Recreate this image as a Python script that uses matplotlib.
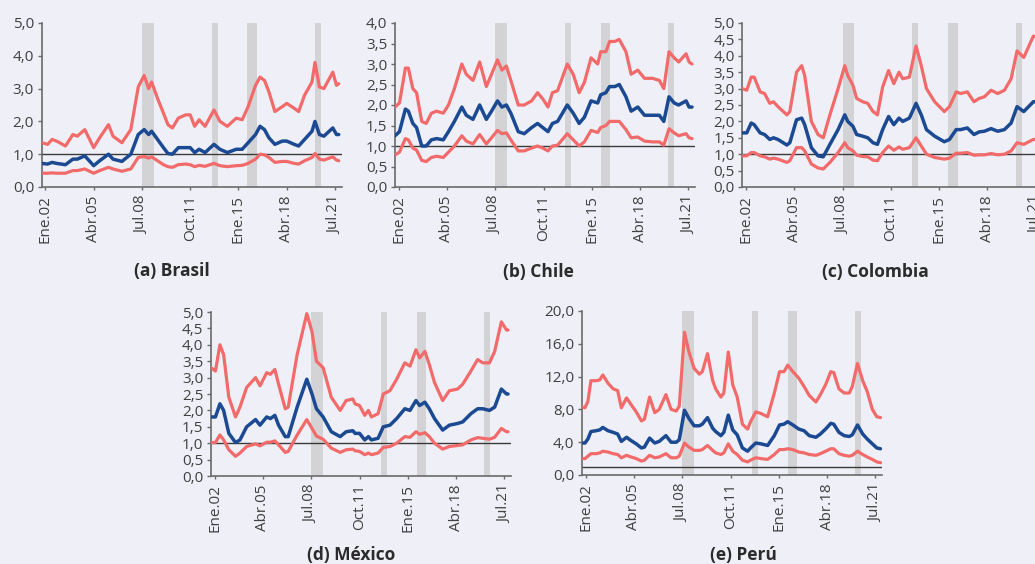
import numpy as np
import matplotlib.pyplot as plt
from matplotlib.ticker import FuncFormatter

plt.rcParams['font.family'] = ['Open Sans', 'DejaVu Sans']

BG = '#eff0f7'
RED = '#f26a6a'
BLUE = '#1b4a93'
BAND = '#d3d3d5'

# shaded episodes (decimal years)
bands = [(2008.5, 2009.3), (2013.2, 2013.6), (2015.6, 2016.25), (2020.15, 2020.55)]

tick_pos = [2002.0, 2005.25, 2008.5, 2011.75, 2015.0, 2018.25, 2021.5]
tick_labels = ['Ene.02', 'Abr.05', 'Jul.08', 'Oct.11', 'Ene.15', 'Abr.18', 'Jul.21']

# ---- Brasil ----
dates_br = [2001.75, 2002.15, 2002.45, 2002.75, 2003.35, 2003.85, 2004.15, 2004.65, 2005.25, 2005.65,
            2006.25, 2006.55, 2007.15, 2007.75, 2008.25, 2008.65, 2008.95, 2009.15, 2009.55, 2009.95,
            2010.25, 2010.55, 2010.95, 2011.45, 2011.75, 2012.05, 2012.35, 2012.75, 2013.35, 2013.75,
            2014.25, 2014.85, 2015.25, 2015.65, 2016.15, 2016.45, 2016.75, 2017.05, 2017.45, 2017.95,
            2018.25, 2018.75, 2019.05, 2019.45, 2019.95, 2020.15, 2020.45, 2020.75, 2021.35, 2021.6,
            2021.75]
upper_br = [1.35, 1.3, 1.45, 1.4, 1.25, 1.6, 1.55, 1.75, 1.2, 1.5,
            1.9, 1.55, 1.35, 1.75, 3.05, 3.4, 3.0, 3.2, 2.7, 2.25,
            1.9, 1.8, 2.1, 2.2, 2.2, 1.85, 2.05, 1.85, 2.35, 2.0,
            1.85, 2.1, 2.05, 2.45, 3.1, 3.35, 3.25, 2.9, 2.3, 2.45,
            2.55, 2.4, 2.3, 2.8, 3.2, 3.8, 3.05, 3.0, 3.5, 3.1,
            3.15]
mid_br = [0.72, 0.7, 0.75, 0.72, 0.68, 0.85, 0.85, 0.95, 0.65, 0.8,
          1.0, 0.85, 0.78, 1.0, 1.6, 1.75, 1.6, 1.7, 1.45, 1.2,
          1.02, 1.0, 1.2, 1.2, 1.2, 1.05, 1.15, 1.05, 1.3, 1.15,
          1.05, 1.15, 1.15, 1.35, 1.6, 1.85, 1.75, 1.5, 1.3, 1.4,
          1.4, 1.3, 1.25, 1.45, 1.7, 2.0, 1.6, 1.55, 1.8, 1.6,
          1.6]
lower_br = [0.42, 0.42, 0.43, 0.42, 0.42, 0.5, 0.5, 0.55, 0.42, 0.5,
            0.6, 0.55, 0.48, 0.55, 0.9, 0.93, 0.88, 0.92, 0.8, 0.68,
            0.62, 0.6, 0.68, 0.7, 0.68, 0.62, 0.66, 0.63, 0.72, 0.65,
            0.62, 0.65, 0.66, 0.72, 0.85, 1.0, 0.98, 0.9, 0.75, 0.78,
            0.78, 0.72, 0.7, 0.8, 0.9, 1.02, 0.85, 0.82, 0.92, 0.82,
            0.8]

# ---- Chile ----
dates_cl = [2001.75, 2002.05, 2002.45, 2002.65, 2002.95, 2003.2, 2003.55, 2003.85, 2004.2, 2004.55,
            2005.0, 2005.35, 2005.75, 2006.25, 2006.55, 2007.0, 2007.45, 2007.9, 2008.25, 2008.65,
            2008.95, 2009.25, 2009.55, 2010.05, 2010.45, 2010.95, 2011.35, 2011.7, 2012.05, 2012.35,
            2012.7, 2013.35, 2013.75, 2014.15, 2014.5, 2014.95, 2015.4, 2015.6, 2015.95, 2016.2,
            2016.55, 2016.85, 2017.3, 2017.65, 2018.1, 2018.55, 2019.1, 2019.55, 2019.85, 2020.2,
            2020.55, 2020.85, 2021.35, 2021.55, 2021.75]
upper_cl = [1.95, 2.05, 2.9, 2.9, 2.4, 2.3, 1.6, 1.55, 1.8, 1.85,
            1.8, 2.0, 2.4, 3.0, 2.75, 2.6, 3.05, 2.45, 2.75, 3.1,
            2.85, 2.95, 2.6, 2.0, 2.0, 2.1, 2.3, 2.15, 1.95, 2.3,
            2.35, 3.0, 2.75, 2.3, 2.55, 3.15, 3.0, 3.3, 3.3, 3.55,
            3.55, 3.6, 3.3, 2.75, 2.85, 2.65, 2.65, 2.6, 2.4, 3.3,
            3.15, 3.05, 3.25, 3.05, 3.0]
mid_cl = [1.25, 1.35, 1.9, 1.85, 1.55, 1.45, 1.0, 1.0, 1.15, 1.18,
          1.15, 1.35, 1.6, 1.95, 1.75, 1.65, 2.0, 1.65, 1.85, 2.1,
          1.95, 2.0, 1.8, 1.35, 1.3, 1.45, 1.55, 1.45, 1.35, 1.55,
          1.6, 2.0, 1.8, 1.55, 1.7, 2.1, 2.05, 2.25, 2.3, 2.45,
          2.45, 2.5, 2.2, 1.85, 1.95, 1.75, 1.75, 1.75, 1.6, 2.2,
          2.05, 2.0, 2.1, 1.95, 1.95]
lower_cl = [0.78, 0.85, 1.18, 1.15, 0.95, 0.9, 0.65, 0.62, 0.72, 0.75,
            0.72, 0.85, 1.0, 1.25, 1.12, 1.05, 1.28, 1.05, 1.2, 1.38,
            1.3, 1.32, 1.15, 0.88, 0.88, 0.95, 1.0, 0.95, 0.88, 1.0,
            1.02, 1.3, 1.15, 1.0, 1.1, 1.38, 1.33, 1.45, 1.5, 1.6,
            1.6, 1.6, 1.4, 1.2, 1.22, 1.12, 1.1, 1.1, 1.02, 1.42,
            1.32, 1.25, 1.3, 1.2, 1.18]

# ---- Colombia ----
dates_co = [2001.75, 2002.05, 2002.35, 2002.55, 2002.95, 2003.25, 2003.6, 2003.85, 2004.15, 2004.75,
            2004.95, 2005.4, 2005.75, 2005.95, 2006.4, 2006.85, 2007.2, 2007.65, 2008.2, 2008.65,
            2008.85, 2009.2, 2009.45, 2009.85, 2010.2, 2010.55, 2010.85, 2011.2, 2011.6, 2011.95,
            2012.3, 2012.55, 2013.0, 2013.45, 2013.8, 2014.15, 2014.7, 2015.35, 2015.7, 2016.15,
            2016.45, 2016.9, 2017.35, 2017.7, 2018.05, 2018.5, 2018.95, 2019.4, 2019.85, 2020.25,
            2020.7, 2021.35, 2021.75]
upper_co = [3.0, 2.95, 3.35, 3.35, 2.9, 2.85, 2.55, 2.6, 2.45, 2.2,
            2.3, 3.5, 3.7, 3.4, 2.0, 1.6, 1.5, 2.2, 3.0, 3.7,
            3.4, 3.1, 2.7, 2.6, 2.55, 2.3, 2.2, 3.05, 3.55, 3.15,
            3.5, 3.3, 3.35, 4.3, 3.7, 3.0, 2.6, 2.3, 2.45, 2.9,
            2.85, 2.9, 2.6, 2.7, 2.75, 2.95, 2.85, 2.95, 3.3, 4.15,
            3.95, 4.6, 4.55]
mid_co = [1.65, 1.65, 1.95, 1.9, 1.65, 1.6, 1.45, 1.5, 1.45, 1.28,
          1.35, 2.05, 2.1, 1.9, 1.2, 0.95, 0.92, 1.3, 1.75, 2.2,
          2.0, 1.85, 1.6, 1.55, 1.5, 1.35, 1.3, 1.75, 2.15, 1.9,
          2.1, 2.0, 2.1, 2.55, 2.2, 1.75, 1.55, 1.38, 1.45, 1.75,
          1.75, 1.8, 1.6, 1.68, 1.7, 1.78, 1.7, 1.75, 1.95, 2.45,
          2.3, 2.6, 2.6]
lower_co = [0.95, 0.95, 1.05, 1.05, 0.95, 0.92, 0.85, 0.88, 0.85, 0.75,
            0.8, 1.2, 1.2, 1.1, 0.7, 0.58, 0.55, 0.75, 1.05, 1.35,
            1.2, 1.1, 0.97, 0.93, 0.92, 0.82, 0.8, 1.05, 1.25, 1.12,
            1.22, 1.15, 1.2, 1.5, 1.25, 1.0, 0.9, 0.85, 0.88, 1.03,
            1.03, 1.05, 0.97, 0.98, 0.98, 1.02, 0.98, 1.0, 1.1, 1.35,
            1.3, 1.45, 1.45]

# ---- México ----
dates_mx = [2001.75, 2002.05, 2002.35, 2002.6, 2002.95, 2003.4, 2003.7, 2004.15, 2004.75, 2005.05,
            2005.5, 2005.75, 2006.05, 2006.3, 2006.75, 2006.95, 2007.55, 2008.2, 2008.55, 2008.85,
            2009.3, 2009.85, 2010.45, 2010.85, 2011.3, 2011.45, 2011.75, 2012.1, 2012.35, 2012.55,
            2013.0, 2013.35, 2013.8, 2014.25, 2014.8, 2015.15, 2015.55, 2015.8, 2016.15, 2016.45,
            2016.8, 2017.35, 2017.8, 2018.35, 2018.7, 2019.25, 2019.7, 2020.05, 2020.5, 2020.85,
            2021.3, 2021.65, 2021.75]
upper_mx = [3.3, 3.2, 4.0, 3.7, 2.4, 1.8, 2.1, 2.7, 3.0, 2.75,
            3.15, 3.1, 3.25, 2.8, 2.05, 2.1, 3.7, 4.95, 4.4, 3.5,
            3.3, 2.4, 2.0, 2.3, 2.35, 2.2, 2.15, 1.85, 2.0, 1.8,
            1.9, 2.5, 2.6, 2.95, 3.45, 3.35, 3.85, 3.6, 3.8, 3.4,
            2.85, 2.3, 2.6, 2.65, 2.8, 3.2, 3.55, 3.45, 3.45, 3.8,
            4.7, 4.45, 4.45]
mid_mx = [1.8, 1.8, 2.2, 2.0, 1.3, 1.02, 1.1, 1.5, 1.72, 1.55,
          1.8, 1.75, 1.85, 1.55, 1.2, 1.2, 2.1, 2.95, 2.5, 2.05,
          1.8, 1.35, 1.2, 1.35, 1.38, 1.3, 1.3, 1.1, 1.2, 1.1,
          1.15, 1.5, 1.55, 1.75, 2.05, 2.0, 2.3, 2.15, 2.25, 2.05,
          1.75, 1.4, 1.55, 1.6, 1.65, 1.9, 2.05, 2.05, 2.0, 2.1,
          2.65, 2.5, 2.5]
lower_mx = [1.02, 1.02, 1.25, 1.1, 0.8, 0.6, 0.7, 0.9, 0.98, 0.92,
            1.03, 1.03, 1.07, 0.95, 0.72, 0.75, 1.25, 1.72, 1.45, 1.22,
            1.12, 0.85, 0.72, 0.8, 0.82, 0.77, 0.75, 0.65, 0.7, 0.65,
            0.7, 0.87, 0.9, 1.0, 1.2, 1.18, 1.35, 1.27, 1.32, 1.2,
            1.0, 0.82, 0.9, 0.93, 0.95, 1.1, 1.17, 1.15, 1.12, 1.18,
            1.45, 1.35, 1.35]

# ---- Perú ----
dates_pe = [2001.75, 2001.95, 2002.15, 2002.35, 2002.7, 2002.95, 2003.15, 2003.5, 2003.85, 2004.15,
            2004.4, 2004.75, 2005.05, 2005.4, 2005.75, 2005.95, 2006.3, 2006.65, 2006.95, 2007.4,
            2007.75, 2008.1, 2008.3, 2008.65, 2008.95, 2009.3, 2009.65, 2009.85, 2010.2, 2010.55,
            2010.75, 2011.1, 2011.3, 2011.6, 2011.9, 2012.2, 2012.55, 2012.9, 2013.1, 2013.45,
            2013.8, 2014.25, 2014.7, 2015.05, 2015.35, 2015.6, 2015.95, 2016.35, 2016.7, 2017.05,
            2017.5, 2017.8, 2018.15, 2018.5, 2018.7, 2019.05, 2019.4, 2019.75, 2019.95, 2020.3,
            2020.65, 2020.95, 2021.3, 2021.6, 2021.85]
upper_pe = [8.3, 8.2, 9.0, 11.5, 11.5, 11.6, 12.2, 11.2, 10.5, 10.3,
            8.2, 9.4, 8.6, 7.7, 6.6, 6.8, 9.5, 7.6, 8.0, 9.8,
            8.0, 7.8, 8.4, 17.4, 15.0, 13.0, 12.3, 12.6, 14.8, 11.5,
            10.5, 9.5, 10.0, 15.0, 11.0, 9.5, 6.2, 5.6, 6.5, 7.7,
            7.5, 7.1, 10.0, 12.6, 12.6, 13.4, 12.6, 11.8, 10.8, 9.7,
            8.9, 9.8, 11.0, 12.6, 12.5, 10.5, 10.0, 10.0, 10.8, 13.6,
            11.5, 10.2, 8.0, 7.1, 7.0]
mid_pe = [3.9, 3.9, 4.4, 5.3, 5.4, 5.5, 5.8, 5.4, 5.2, 5.0,
          4.1, 4.6, 4.2, 3.8, 3.3, 3.4, 4.5, 3.9, 4.1, 4.8,
          4.0, 4.0, 4.3, 7.9, 6.9, 6.0, 6.0, 6.2, 7.0, 5.7,
          5.3, 4.8, 5.2, 7.3, 5.5, 4.9, 3.3, 2.9, 3.3, 3.9,
          3.8, 3.6, 4.8, 6.1, 6.2, 6.5, 6.1, 5.6, 5.4, 4.8,
          4.6, 5.0, 5.6, 6.3, 6.2, 5.2, 4.8, 4.7, 4.9, 6.1,
          5.0, 4.4, 3.8, 3.3, 3.2]
lower_pe = [2.0, 2.0, 2.3, 2.6, 2.6, 2.7, 2.9, 2.8, 2.6, 2.5,
            2.1, 2.4, 2.2, 2.0, 1.7, 1.8, 2.4, 2.1, 2.2, 2.6,
            2.1, 2.1, 2.3, 3.9, 3.4, 3.0, 3.0, 3.1, 3.6, 3.0,
            2.7, 2.5, 2.7, 3.8, 2.9, 2.5, 1.8, 1.6, 1.8, 2.1,
            2.0, 1.9, 2.5, 3.1, 3.1, 3.2, 3.1, 2.8, 2.7, 2.5,
            2.4, 2.6, 2.9, 3.2, 3.2, 2.6, 2.4, 2.3, 2.4, 2.9,
            2.5, 2.2, 1.9, 1.6, 1.5]

W, H = 1035.0, 564.0
fig = plt.figure(figsize=(W / 100, H / 100), dpi=100, facecolor=BG)


def comma(v, pos):
    return f'{v:.1f}'.replace('.', ',')


def panel(left, top, dates, upper, mid, lower, ymax, ystep, title, tx, ty):
    """Draw one country panel; left/top are in pixels from the top-left corner."""
    ax = fig.add_axes([left / W, (H - top - 164) / H, 300 / W, 164 / H])
    ax.set_facecolor(BG)
    for a, b in bands:
        ax.axvspan(a, b, color=BAND, lw=0, zorder=1)
    ax.axhline(1.0, color='#3a3a3a', lw=1.0, zorder=2)
    ax.plot(dates, upper, color=RED, lw=2.3, zorder=3, solid_capstyle='round')
    ax.plot(dates, lower, color=RED, lw=2.3, zorder=3, solid_capstyle='round')
    ax.plot(dates, mid, color=BLUE, lw=2.5, zorder=4, solid_capstyle='round')

    ax.set_xlim(2001.75, 2021.95)
    ax.set_ylim(0, ymax)
    ax.set_yticks(np.arange(0, ymax + ystep / 2, ystep))
    ax.yaxis.set_major_formatter(FuncFormatter(comma))
    ax.set_xticks(tick_pos)
    ax.set_xticklabels(tick_labels, rotation=90)

    for s in ('top', 'right'):
        ax.spines[s].set_visible(False)
    for s in ('left', 'bottom'):
        ax.spines[s].set_color('#6a6a6a')
        ax.spines[s].set_linewidth(1.2)
    ax.tick_params(axis='y', length=3, width=1, color='#6a6a6a', pad=2.5,
                   labelsize=11, labelcolor='#404040')
    ax.tick_params(axis='x', length=2.5, width=1, color='#6a6a6a', pad=3.5,
                   labelsize=11, labelcolor='#404040')

    fig.text(tx / W, 1 - ty / H, title, ha='center', va='center',
             fontsize=12.5, fontweight='bold', color='#2b2b2b')
    return ax


panel(41.7, 23, dates_br, upper_br, mid_br, lower_br, 5.0, 1.0, '(a) Brasil', 172, 271)
panel(395, 23, dates_cl, upper_cl, mid_cl, lower_cl, 4.0, 0.5, '(b) Chile', 538, 272)
panel(742.3, 23, dates_co, upper_co, mid_co, lower_co, 5.0, 0.5, '(c) Colombia', 875, 272)
panel(211, 312, dates_mx, upper_mx, mid_mx, lower_mx, 5.0, 0.5, '(d) México', 351, 555)
panel(582, 311, dates_pe, upper_pe, mid_pe, lower_pe, 20.0, 4.0, '(e) Perú', 743, 555)

fig.savefig('out.png', dpi=100, facecolor=BG)
